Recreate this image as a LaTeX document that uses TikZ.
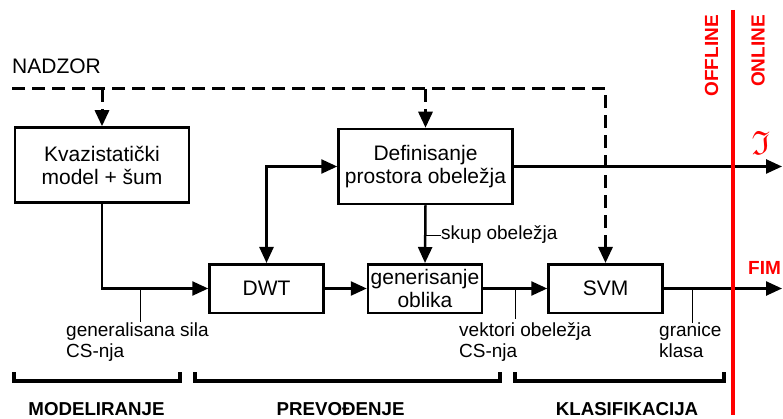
\documentclass[tikz,border=0pt]{standalone}
\usepackage{fontspec}
\setmainfont{Liberation Sans}
\usepackage{amssymb}
\usetikzlibrary{arrows.meta}

\tikzset{
  flowtip/.tip={Triangle[length=16pt,width=14pt]},
  block/.style={draw, line width=2.5pt, inner sep=0pt, align=center, font=\fontsize{21}{23}\selectfont},
  bigblock/.style={block, minimum width=174pt, minimum height=75pt},
  smallblock/.style={block, minimum width=114pt, minimum height=48.5pt},
  flow/.style={line width=2.5pt, -flowtip},
  supervise/.style={flow, line width=3pt, dash pattern=on 13pt off 7pt},
  tick/.style={line width=0.8pt},
  lbl/.style={inner sep=0pt, align=left, font=\fontsize{19}{21}\selectfont},
  phase/.style={inner sep=0pt, font=\fontsize{18.7}{21}\selectfont\bfseries},
  bracket/.style={line width=4pt},
  online/.style={red, inner sep=0pt, font=\fontsize{19}{21}\selectfont\bfseries}
}

\begin{document}
\begin{tikzpicture}[x=1pt, y=-1pt]
  \useasboundingbox (0,0) rectangle (783,419);

  % Blocks
  \node[bigblock] (kvazi) at (102,165) {Kvazistatički\\model + šum};
  \node[bigblock] (def) at (425.5,166.5) {Definisanje\\prostora obeležja};
  \node[smallblock] (dwt) at (266.5,288.5) {DWT};
  \node[smallblock] (oblik) at (425,288.5) {generisanje\\oblika};
  \node[smallblock] (svm) at (605.5,288.5) {SVM};

  % Supervision
  \node[lbl, font=\fontsize{21}{23}\selectfont, anchor=base west] (nadzor) at (12,74) {NADZOR};
  \coordinate (nz) at (12,89);
  \draw[supervise] (nz) -| (svm.north);
  \draw[supervise] (kvazi.north |- nz) -- (kvazi.north);
  \draw[supervise] (def.north |- nz) -- (def.north);

  % Signal flow
  \draw[flow] (kvazi.south) |- (dwt.west);
  \draw[flow, flowtip-flowtip] (dwt.north) |- (def.west);
  \draw[flow] (def.south) -- (oblik.north);
  \draw[flow] (dwt.east) -- (oblik.west);
  \draw[flow] (oblik.east) -- (svm.west);
  \coordinate (iend) at (782,166.5);
  \coordinate (fend) at (782,288.5);
  \draw[flow] (def.east) -- (iend);
  \draw[flow] (svm.east) -- (fend);

  % Labels
  \node[lbl, anchor=west] (skup) at (441,235) {skup obeležja};
  \draw[tick] (def.south |- skup.west) -- (skup.west);
  \node[lbl, anchor=north west] (sila) at (66,322.5) {generalisana sila\\CS-nja};
  \draw[tick] (140,288.5) -- (140,322);
  \node[lbl, anchor=north west] (vektori) at (459,322.5) {vektori obeležja\\CS-nja};
  \draw[tick] (515,288.5) -- (515,319);
  \node[lbl, anchor=north west] (granice) at (659,322.5) {granice\\klasa};
  \draw[tick] (692,288.5) -- (692,323);

  % Offline / online
  \coordinate (rtop) at (733,10);
  \coordinate (rbot) at (733,415);
  \draw[red, line width=4pt] (rtop) -- (rbot);
  \node[online, rotate=90, anchor=east] (offline) at (711.5,15) {OFFLINE};
  \node[online, rotate=90, anchor=east] (onlinetxt) at (758,15) {ONLINE};
  \node[online, anchor=base west] (fim) at (748,274) {FIM};
  \node[red, inner sep=0pt, scale=1.4, font=\fontsize{24}{24}\selectfont] (frak) at (761,143) {$\mathfrak{I}$};

  % Phases
  \foreach \xa/\xb/\xm/\txt [count=\i] in {12/182/96.5/MODELIRANJE, 193/502/340.6/PREVOĐENJE, 513/726/627/KLASIFIKACIJA} {
    \draw[bracket] (\xa+2,372) |- (\xb-2,381) -- (\xb-2,372);
    \node[phase, anchor=base] (phase\i) at (\xm,415.5) {\txt};
  }
\end{tikzpicture}
\end{document}
